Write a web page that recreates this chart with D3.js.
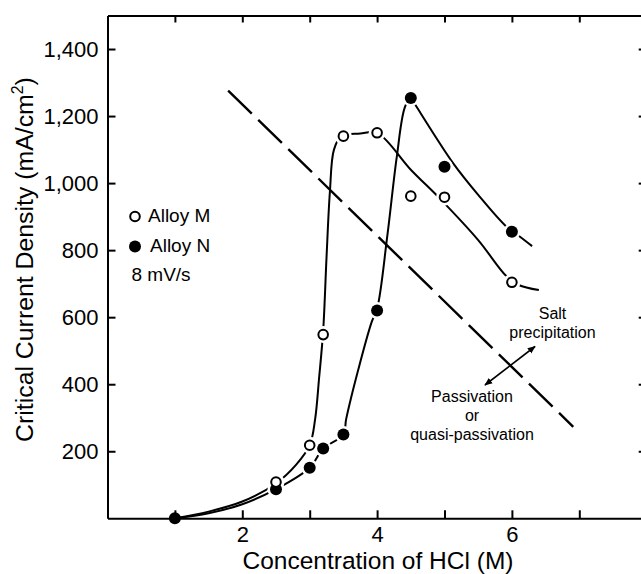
<!DOCTYPE html>
<html>
<head>
<meta charset="utf-8">
<script src="https://cdn.jsdelivr.net/npm/d3@7"></script>
<style>
  body { margin: 0; background: #fff; }
  text { font-family: "Liberation Sans", Arial, Helvetica, sans-serif; fill: #000; }
</style>
</head>
<body>
<script>
// measured points (HCl concentration in M, critical current density in mA/cm2)
const alloyM = [[2.5, 108], [3, 218], [3.2, 548], [3.5, 1140], [4, 1150], [4.5, 961], [5, 958], [6, 704]];
const alloyN = [[1, 0], [2.5, 87], [3, 151], [3.2, 208], [3.5, 250], [4, 620], [4.5, 1254], [5, 1049], [6, 855]];

// hand drawn fit curves
const fitM = [[1, 0], [1.5, 20], [2, 50], [2.5, 104], [2.8, 160], [3, 218], [3.08, 295], [3.14, 420], [3.2, 560],
  [3.25, 780], [3.3, 975], [3.36, 1100], [3.47, 1140], [3.75, 1148], [4, 1150], [4.5, 1040], [4.95, 950],
  [5.5, 830], [5.92, 722], [6.1, 696], [6.4, 681]];
const fitN = [[1, 0], [1.5, 15], [2, 42], [2.5, 87], [3, 151], [3.2, 208], [3.5, 250], [3.54, 295], [3.72, 443],
  [3.92, 586], [4, 625], [4.15, 840], [4.29, 1075], [4.41, 1225], [4.5, 1255], [4.56, 1236], [5.13, 1059],
  [5.5, 965], [5.92, 870], [6.12, 840], [6.3, 812]];

// salt precipitation / passivation boundary
const boundary = [[1.79, 1276], [6.91, 273]];

const xTicks = [1, 2, 3, 4, 5, 6, 7];
const xLabels = [2, 4, 6];
const yTicks = [200, 400, 600, 800, 1000, 1200, 1400];

const W = 641, H = 574;

var svg = d3.select('body').append('svg')
	.attr('width', W)
	.attr('height', H);

var x = d3.scaleLinear().domain([0, 8]).range([107.5, 646.7]);
var y = d3.scaleLinear().domain([0, 1500]).range([518.3, 15.5]);

var line = d3.line()
	.x(d => x(d[0]))
	.y(d => y(d[1]))
	.curve(d3.curveCatmullRom.alpha(0.5));

svg.append('path')
	.datum(fitM)
	.attr('d', line)
	.attr('fill', 'none')
	.attr('stroke', '#000')
	.attr('stroke-width', 2);

svg.append('path')
	.datum(fitN)
	.attr('d', line)
	.attr('fill', 'none')
	.attr('stroke', '#000')
	.attr('stroke-width', 2);

svg.append('path')
	.datum(boundary)
	.attr('d', d3.line().x(d => x(d[0])).y(d => y(d[1])))
	.attr('fill', 'none')
	.attr('stroke', '#000')
	.attr('stroke-width', 2.4)
	.attr('stroke-dasharray', '33,9');

// white halos so the curves stop short of the markers
svg.append('g')
	.selectAll('circle')
	.data(alloyM.concat(alloyN.slice(1)))
	.enter()
	.append('circle')
	.attr('cx', d => x(d[0]))
	.attr('cy', d => y(d[1]))
	.attr('r', 8.5)
	.attr('fill', '#fff');

// axes / frame
function styleAxis(g) {
	g.select('.domain').attr('stroke', '#000').attr('stroke-width', 2);
	g.selectAll('.tick line').attr('stroke', '#000').attr('stroke-width', 2);
	g.selectAll('.tick text').attr('font-size', 22).attr('font-family', '"Liberation Sans", Arial, sans-serif').attr('fill', '#000');
}

svg.append('g')
	.attr('transform', `translate(0, ${y(0)})`)
	.call(d3.axisBottom(x).tickValues(xTicks).tickSize(-8).tickSizeOuter(0).tickPadding(8)
		.tickFormat(d => xLabels.includes(d) ? d : ''))
	.call(styleAxis);

svg.append('g')
	.attr('transform', `translate(0, ${y(1500)})`)
	.call(d3.axisTop(x).tickValues(xTicks).tickSize(-7).tickSizeOuter(0).tickFormat(''))
	.call(styleAxis);

svg.append('g')
	.attr('transform', `translate(${x(0)}, 0)`)
	.call(d3.axisLeft(y).tickValues(yTicks).tickSize(-8).tickSizeOuter(0).tickPadding(9)
		.tickFormat(d3.format(',')))
	.call(styleAxis);

svg.append('g')
	.attr('transform', `translate(${x(8)}, 0)`)
	.call(d3.axisRight(y).tickValues(yTicks).tickSize(-8).tickSizeOuter(0).tickFormat(''))
	.call(styleAxis);

// markers
svg.append('g')
	.selectAll('circle')
	.data(alloyN)
	.enter()
	.append('circle')
	.attr('cx', d => x(d[0]))
	.attr('cy', d => y(d[1]))
	.attr('r', 6)
	.attr('fill', '#000');

svg.append('g')
	.selectAll('circle')
	.data(alloyM)
	.enter()
	.append('circle')
	.attr('cx', d => x(d[0]))
	.attr('cy', d => y(d[1]))
	.attr('r', 4.8)
	.attr('fill', '#fff')
	.attr('stroke', '#000')
	.attr('stroke-width', 2);

// axis titles
svg.append('text')
	.attr('x', 378)
	.attr('y', 569)
	.attr('text-anchor', 'middle')
	.attr('font-size', 24.5)
	.text('Concentration of HCl (M)');

// y title: sized so it runs from about y=442 up to y=77 like the original
var yTitle = svg.append('text')
	.attr('transform', 'translate(33, 259.5) rotate(-90)')
	.attr('text-anchor', 'middle')
	.attr('font-size', 25);
var t1 = yTitle.append('tspan').text('Critical Current Density (mA/cm');
var t2 = yTitle.append('tspan').attr('font-size', 16).attr('dy', -10).text('2');
var t3 = yTitle.append('tspan').attr('dy', 10).text(')');
var len = yTitle.node().getComputedTextLength();
var fs = 25 * 365 / len;
yTitle.attr('font-size', fs);
t2.attr('font-size', fs * 0.64).attr('dy', -fs * 0.4);
t3.attr('dy', fs * 0.4);

// legend
var legend = svg.append('g');
legend.append('circle').attr('cx', 135).attr('cy', 216.5).attr('r', 4.8)
	.attr('fill', '#fff').attr('stroke', '#000').attr('stroke-width', 2);
legend.append('text').attr('x', 148).attr('y', 221.7).attr('font-size', 19).text('Alloy M');
legend.append('circle').attr('cx', 135).attr('cy', 246.5).attr('r', 6).attr('fill', '#000');
legend.append('text').attr('x', 150).attr('y', 251.7).attr('font-size', 19).text('Alloy N');
legend.append('text').attr('x', 131.5).attr('y', 280.7).attr('font-size', 19).text('8 mV/s');

// region annotation
var defs = svg.append('defs');
defs.append('marker')
	.attr('id', 'head')
	.attr('viewBox', '0 0 10 10')
	.attr('refX', 9)
	.attr('refY', 5)
	.attr('markerWidth', 8)
	.attr('markerHeight', 8)
	.attr('markerUnits', 'userSpaceOnUse')
	.attr('orient', 'auto-start-reverse')
	.append('path')
	.attr('d', 'M0,1 L10,5 L0,9 Z')
	.attr('fill', '#000');

svg.append('line')
	.attr('x1', 485).attr('y1', 385)
	.attr('x2', 535).attr('y2', 346.5)
	.attr('stroke', '#000')
	.attr('stroke-width', 1.6)
	.attr('marker-start', 'url(#head)')
	.attr('marker-end', 'url(#head)');

var notes = [
	{t: 'Salt', x: 552.5, y: 319},
	{t: 'precipitation', x: 552.5, y: 338},
	{t: 'Passivation', x: 472, y: 402},
	{t: 'or', x: 472, y: 421},
	{t: 'quasi-passivation', x: 472, y: 440}
];
svg.append('g')
	.selectAll('text')
	.data(notes)
	.enter()
	.append('text')
	.attr('x', d => d.x)
	.attr('y', d => d.y)
	.attr('text-anchor', 'middle')
	.attr('font-size', 16)
	.text(d => d.t);
</script>
</body>
</html>
